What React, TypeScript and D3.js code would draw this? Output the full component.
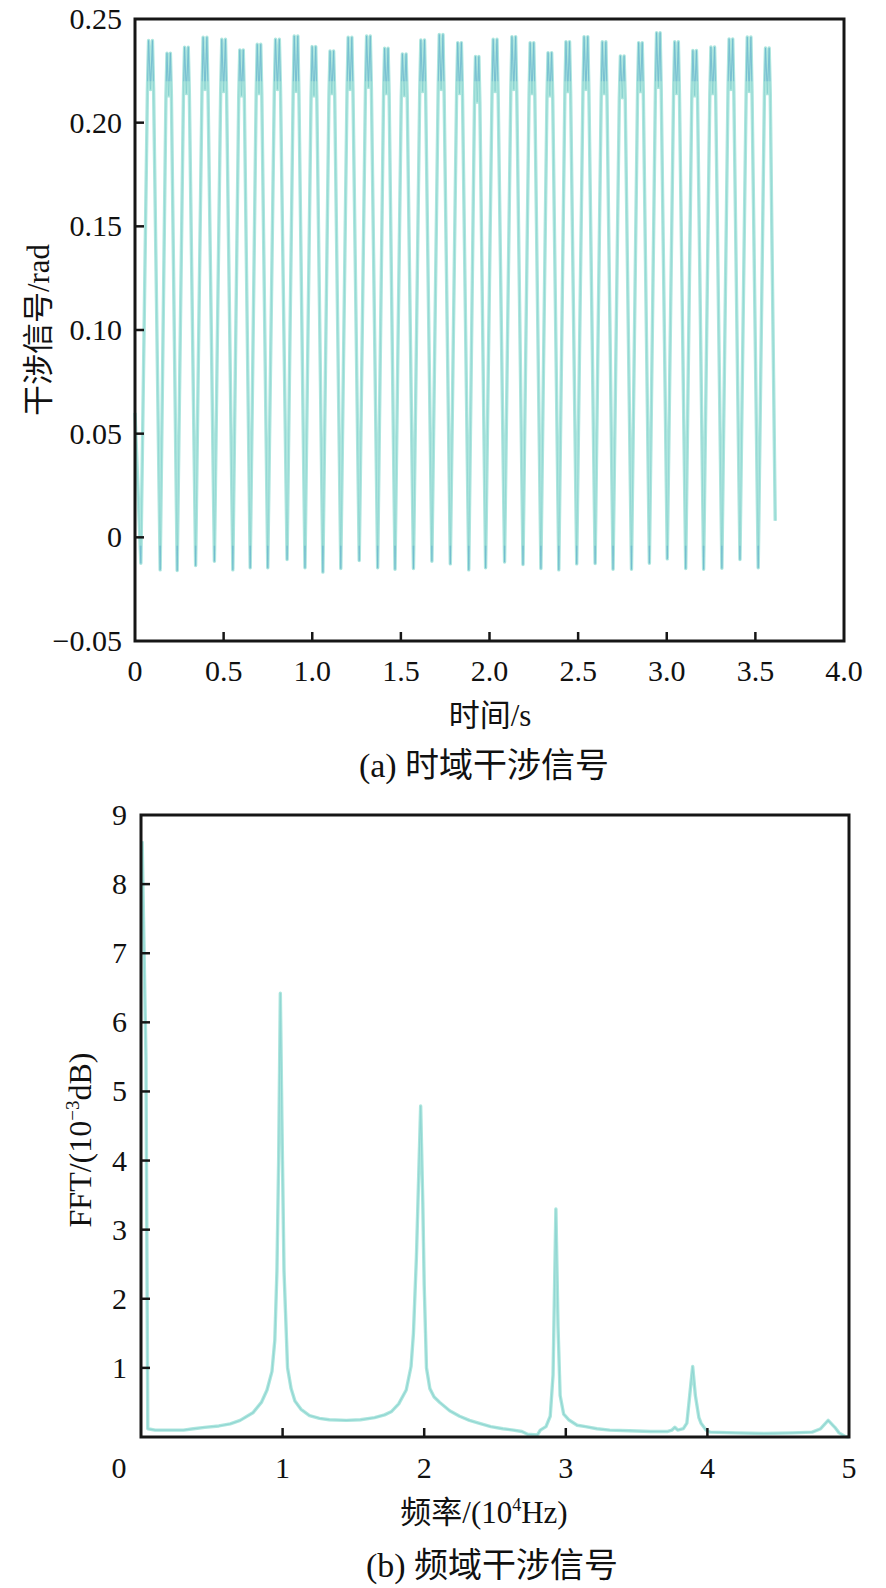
import { useEffect, useRef } from 'react';
import * as d3 from 'd3';

// (a) time-domain signal, read per fringe cycle
const TROUGH_TIMES = [
  0.033, 0.142, 0.238, 0.342, 0.448, 0.552, 0.650, 0.749, 0.858, 0.959,
  1.060, 1.161, 1.265, 1.369, 1.467, 1.571, 1.675, 1.779, 1.883, 1.978,
  2.085, 2.189, 2.290, 2.391, 2.492, 2.596, 2.697, 2.801, 2.902, 3.003,
  3.107, 3.208, 3.311, 3.413, 3.516
];
const TROUGH_VALUES = [
  -0.0125, -0.0157, -0.016, -0.0136, -0.0115, -0.0157, -0.0147, -0.0147, -0.0107, -0.0147,
  -0.0168, -0.015, -0.0112, -0.0147, -0.0154, -0.015, -0.0115, -0.0128, -0.0157, -0.0147,
  -0.0119, -0.0131, -0.015, -0.0157, -0.0128, -0.0126, -0.0154, -0.0154, -0.0125, -0.0104,
  -0.015, -0.0154, -0.0149, -0.0107, -0.0147
];
const PEAK_VALUES = [
  0.2396, 0.2335, 0.2364, 0.2412, 0.2402, 0.2351, 0.2378, 0.2402, 0.2418, 0.2367,
  0.2346, 0.2412, 0.2418, 0.2359, 0.2332, 0.2399, 0.2425, 0.2386, 0.2319, 0.2402,
  0.2415, 0.2386, 0.2338, 0.2391, 0.2415, 0.239, 0.2322, 0.2386, 0.2434, 0.239,
  0.2348, 0.2365, 0.2404, 0.2413, 0.236
];
const DIP_VALUES = [
  0.216, 0.213, 0.214, 0.216, 0.215, 0.213, 0.214, 0.216, 0.215, 0.213,
  0.214, 0.216, 0.217, 0.214, 0.213, 0.215, 0.216, 0.214, 0.210, 0.215,
  0.216, 0.214, 0.213, 0.215, 0.216, 0.214, 0.212, 0.215, 0.217, 0.214,
  0.213, 0.214, 0.216, 0.215, 0.214
];
const SIGNAL_START: [number, number] = [0, 0.06];
const SIGNAL_END: [number, number] = [3.612, 0.008];
// knee, top, dip, top, knee positions inside one fringe period (fraction of period)
const CYCLE_PHASES = [0.34, 0.4, 0.5, 0.6, 0.66];

const TIME_TICKS = [0, 0.5, 1.0, 1.5, 2.0, 2.5, 3.0, 3.5, 4.0];
const PHASE_TICKS = [-0.05, 0, 0.05, 0.10, 0.15, 0.20, 0.25];

// (b) spectrum
const FREQ = [
  0.008, 0.035, 0.048, 0.1, 0.2, 0.3, 0.37, 0.45, 0.55, 0.63,
  0.7, 0.79, 0.85, 0.89, 0.925, 0.945, 0.96, 0.972, 0.984, 0.995,
  1.01, 1.035, 1.06, 1.087, 1.13, 1.19, 1.26, 1.33, 1.45, 1.55,
  1.65, 1.72, 1.77, 1.82, 1.873, 1.907, 1.924, 1.945, 1.96, 1.975,
  1.99, 2.0, 2.016, 2.04, 2.07, 2.11, 2.18, 2.25, 2.32, 2.385,
  2.47, 2.556, 2.63, 2.69, 2.73, 2.8, 2.82, 2.86, 2.89, 2.91,
  2.93, 2.945, 2.96, 2.985, 3.02, 3.08, 3.14, 3.22, 3.31, 3.45,
  3.6, 3.72, 3.75, 3.77, 3.79, 3.83, 3.855, 3.875, 3.896, 3.915,
  3.94, 3.955, 3.99, 4.02, 4.2, 4.4, 4.6, 4.74, 4.8, 4.853,
  4.9, 4.93, 4.97, 5.0
];
const FFT_AMP = [
  8.62, 5.5, 0.12, 0.1, 0.1, 0.1, 0.12, 0.14, 0.16, 0.19,
  0.24, 0.35, 0.5, 0.68, 0.95, 1.4, 2.4, 4.0, 6.42, 4.6,
  2.4, 1.0, 0.7, 0.52, 0.4, 0.31, 0.27, 0.25, 0.24, 0.25,
  0.28, 0.32, 0.37, 0.48, 0.68, 1.02, 1.5, 2.6, 3.7, 4.79,
  3.4, 2.2, 1.0, 0.7, 0.58, 0.5, 0.38, 0.3, 0.24, 0.2,
  0.15, 0.12, 0.1, 0.08, 0.04, 0.03, 0.1, 0.15, 0.3, 0.9,
  3.3, 1.6, 0.6, 0.33, 0.25, 0.17, 0.15, 0.12, 0.1, 0.09,
  0.08, 0.08, 0.1, 0.14, 0.1, 0.12, 0.2, 0.6, 1.02, 0.6,
  0.28, 0.2, 0.1, 0.07, 0.06, 0.05, 0.06, 0.07, 0.12, 0.24,
  0.14, 0.06, 0.01, 0.0
];
const FREQ_TICKS = [0, 1, 2, 3, 4, 5];
const AMP_TICKS = [1, 2, 3, 4, 5, 6, 7, 8, 9];

const W = 886;
const H = 1588;
const NUM_FONT = '"Liberation Serif", "Times New Roman", serif';
const TEXT_FONT = '"Liberation Serif", "Noto Sans CJK SC", serif';
const AXIS_COLOR = '#161616';
const LINE_LIGHT = '#ade6de';
const LINE_MID = '#74c6c8';
const LINE_DARK = '#4a98cf';

export default function App() {
  const svgRef = useRef<SVGSVGElement>(null);

  useEffect(() => {
    if (!svgRef.current) return;
    const svg = d3.select(svgRef.current);
    svg.selectAll('*').remove();

    const defs = svg.append('defs');

    // ---------- (a) time domain ----------
    const xA = d3.scaleLinear().domain([0, 4]).range([135, 844]);
    const yA = d3.scaleLinear().domain([-0.05, 0.25]).range([641, 19]);

    const signal: [number, number][] = [SIGNAL_START];
    TROUGH_TIMES.forEach((t, k) => {
      const period = k < TROUGH_TIMES.length - 1
        ? TROUGH_TIMES[k + 1] - t
        : t - TROUGH_TIMES[k - 1];
      const levels = [DIP_VALUES[k], PEAK_VALUES[k], DIP_VALUES[k], PEAK_VALUES[k], DIP_VALUES[k]];
      signal.push([t, TROUGH_VALUES[k]]);
      CYCLE_PHASES.forEach((ph, j) => {
        const tt = t + ph * period;
        if (tt < SIGNAL_END[0]) signal.push([tt, levels[j]]);
      });
    });
    signal.push(SIGNAL_END);

    const lineA = d3.line<[number, number]>()
      .x(d => xA(d[0]))
      .y(d => yA(d[1]));
    const pathA = lineA(signal) || '';

    // bands where the trace looks darker: fringe tops and trough tips
    defs.append('clipPath').attr('id', 'a-top')
      .append('rect')
      .attr('x', 135).attr('width', 709)
      .attr('y', 19).attr('height', yA(0.22) - 19);
    defs.append('clipPath').attr('id', 'a-bottom')
      .append('rect')
      .attr('x', 135).attr('width', 709)
      .attr('y', yA(-0.004)).attr('height', 641 - yA(-0.004));

    const gA = svg.append('g');
    gA.append('path')
      .attr('d', pathA)
      .attr('fill', 'none')
      .attr('stroke', LINE_LIGHT)
      .attr('stroke-width', 3.4)
      .attr('stroke-linejoin', 'round');
    gA.append('path')
      .attr('d', pathA)
      .attr('fill', 'none')
      .attr('stroke', LINE_MID)
      .attr('stroke-width', 1)
      .attr('stroke-opacity', 0.45)
      .attr('stroke-linejoin', 'round');
    ['a-top', 'a-bottom'].forEach(id => {
      gA.append('path')
        .attr('d', pathA)
        .attr('clip-path', `url(#${id})`)
        .attr('fill', 'none')
        .attr('stroke', LINE_DARK)
        .attr('stroke-width', 1.2)
        .attr('stroke-opacity', 0.35)
        .attr('stroke-linejoin', 'round');
    });

    drawFrame(gA, xA, yA);

    // ticks (inward)
    gA.selectAll('.xtick')
      .data(TIME_TICKS.slice(1, -1))
      .enter().append('line')
      .attr('x1', d => xA(d)).attr('x2', d => xA(d))
      .attr('y1', yA.range()[0]).attr('y2', yA.range()[0] - 9)
      .attr('stroke', AXIS_COLOR).attr('stroke-width', 2.5);
    gA.selectAll('.ytick')
      .data(PHASE_TICKS.slice(1, -1))
      .enter().append('line')
      .attr('x1', xA.range()[0]).attr('x2', xA.range()[0] + 9)
      .attr('y1', d => yA(d)).attr('y2', d => yA(d))
      .attr('stroke', AXIS_COLOR).attr('stroke-width', 2.5);

    gA.selectAll('.xlab')
      .data(TIME_TICKS)
      .enter().append('text')
      .attr('x', d => xA(d))
      .attr('y', 681)
      .attr('text-anchor', 'middle')
      .style('font-family', NUM_FONT)
      .style('font-size', '30px')
      .attr('fill', '#111')
      .text(d => (d === 0 ? '0' : d.toFixed(1)));
    gA.selectAll('.ylab')
      .data(PHASE_TICKS)
      .enter().append('text')
      .attr('x', 122)
      .attr('y', d => yA(d) + 10)
      .attr('text-anchor', 'end')
      .style('font-family', NUM_FONT)
      .style('font-size', '30px')
      .attr('fill', '#111')
      .text(d => (d === 0 ? '0' : d < 0 ? '\u2212' + Math.abs(d).toFixed(2) : d.toFixed(2)));

    gA.append('text')
      .attr('transform', 'translate(49,330) rotate(-90)')
      .attr('text-anchor', 'middle')
      .style('font-family', TEXT_FONT)
      .style('font-size', '31px')
      .attr('fill', '#111')
      .text('干涉信号/rad');
    gA.append('text')
      .attr('x', 490).attr('y', 726)
      .attr('text-anchor', 'middle')
      .style('font-family', TEXT_FONT)
      .style('font-size', '31px')
      .attr('fill', '#111')
      .text('时间/s');
    gA.append('text')
      .attr('x', 484).attr('y', 777)
      .attr('text-anchor', 'middle')
      .style('font-family', TEXT_FONT)
      .style('font-size', '34px')
      .attr('fill', '#111')
      .text('(a) 时域干涉信号');

    // ---------- (b) frequency domain ----------
    const xB = d3.scaleLinear().domain([0, 5]).range([141, 849]);
    const yB = d3.scaleLinear().domain([0, 9]).range([1437, 815]);
    const spectrum = FREQ.map((f, i) => [f, FFT_AMP[i]] as [number, number]);
    const lineB = d3.line<[number, number]>()
      .x(d => xB(d[0]))
      .y(d => yB(d[1]));
    const pathB = lineB(spectrum) || '';

    const gB = svg.append('g');
    gB.append('path')
      .attr('d', pathB)
      .attr('fill', 'none')
      .attr('stroke', LINE_LIGHT)
      .attr('stroke-width', 3.4)
      .attr('stroke-linejoin', 'round');
    gB.append('path')
      .attr('d', pathB)
      .attr('fill', 'none')
      .attr('stroke', LINE_MID)
      .attr('stroke-width', 1.1)
      .attr('stroke-opacity', 0.5)
      .attr('stroke-linejoin', 'round');

    drawFrame(gB, xB, yB);

    gB.selectAll('.xtick')
      .data(FREQ_TICKS.slice(1, -1))
      .enter().append('line')
      .attr('x1', d => xB(d)).attr('x2', d => xB(d))
      .attr('y1', yB.range()[0]).attr('y2', yB.range()[0] - 9)
      .attr('stroke', AXIS_COLOR).attr('stroke-width', 2.5);
    gB.selectAll('.ytick')
      .data(AMP_TICKS.slice(0, -1))
      .enter().append('line')
      .attr('x1', xB.range()[0]).attr('x2', xB.range()[0] + 9)
      .attr('y1', d => yB(d)).attr('y2', d => yB(d))
      .attr('stroke', AXIS_COLOR).attr('stroke-width', 2.5);

    gB.selectAll('.xlab')
      .data(FREQ_TICKS)
      .enter().append('text')
      // the "0" is pushed left of the corner in the original
      .attr('x', d => (d === 0 ? xB(d) - 22 : xB(d)))
      .attr('y', 1478)
      .attr('text-anchor', 'middle')
      .style('font-family', NUM_FONT)
      .style('font-size', '30px')
      .attr('fill', '#111')
      .text(d => String(d));
    gB.selectAll('.ylab')
      .data(AMP_TICKS)
      .enter().append('text')
      .attr('x', 127)
      .attr('y', d => yB(d) + 10)
      .attr('text-anchor', 'end')
      .style('font-family', NUM_FONT)
      .style('font-size', '30px')
      .attr('fill', '#111')
      .text(d => String(d));

    const yTitle = gB.append('text')
      .attr('transform', 'translate(91,1140) rotate(-90)')
      .attr('text-anchor', 'middle')
      .style('font-family', TEXT_FONT)
      .style('font-size', '32px')
      .attr('fill', '#111');
    yTitle.append('tspan').text('FFT/(10');
    yTitle.append('tspan').attr('dy', -12).style('font-size', '19px').text('\u22123');
    yTitle.append('tspan').attr('dy', 12).text('dB)');

    const xTitle = gB.append('text')
      .attr('x', 484).attr('y', 1523)
      .attr('text-anchor', 'middle')
      .style('font-family', TEXT_FONT)
      .style('font-size', '31px')
      .attr('fill', '#111');
    xTitle.append('tspan').text('频率/(10');
    xTitle.append('tspan').attr('dy', -12).style('font-size', '18px').text('4');
    xTitle.append('tspan').attr('dy', 12).text('Hz)');

    gB.append('text')
      .attr('x', 492).attr('y', 1577)
      .attr('text-anchor', 'middle')
      .style('font-family', TEXT_FONT)
      .style('font-size', '34px')
      .attr('fill', '#111')
      .text('(b) 频域干涉信号');
  }, []);

  return (
    <div style={{ position: 'absolute', left: 0, top: 0, width: W, height: H, background: '#fff' }}>
      <svg ref={svgRef} width={W} height={H} style={{ display: 'block' }} />
    </div>
  );
}

function drawFrame(
  g: d3.Selection<SVGGElement, unknown, null, undefined>,
  x: d3.ScaleLinear<number, number>,
  y: d3.ScaleLinear<number, number>
) {
  const [x0, x1] = x.range();
  const [y0, y1] = y.range();
  g.append('rect')
    .attr('x', x0)
    .attr('y', y1)
    .attr('width', x1 - x0)
    .attr('height', y0 - y1)
    .attr('fill', 'none')
    .attr('stroke', AXIS_COLOR)
    .attr('stroke-width', 3);
}
